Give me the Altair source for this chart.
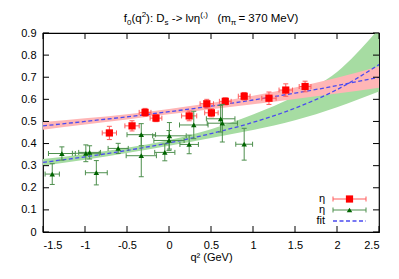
import altair as alt
import pandas as pd

FONT = "Liberation Sans"
W, H = 336, 199

# ---- data ----
# eta (red squares)
eta_q2 = [-0.71, -0.44, -0.285, -0.155, 0.24, 0.45, 0.505, 0.67, 0.895, 1.19, 1.39, 1.62]
eta_f0 = [0.448, 0.480, 0.541, 0.515, 0.525, 0.580, 0.539, 0.591, 0.614, 0.605, 0.642, 0.658]
eta_xerr = [0.085, 0.085, 0.07, 0.07, 0.09, 0.08, 0.08, 0.07, 0.07, 0.085, 0.08, 0.07]
eta_yerr = [0.030, 0.023, 0.018, 0.016, 0.022, 0.020, 0.018, 0.016, 0.017, 0.028, 0.028, 0.024]

# eta' (green triangles)
etap_q2 = [-1.39, -1.275, -0.99, -0.945, -0.865, -0.605, -0.33, -0.33, -0.05, 0.0, 0.005, 0.24, 0.295, 0.615, 0.635, 0.895]
etap_f0 = [0.262, 0.355, 0.356, 0.360, 0.268, 0.378, 0.440, 0.345, 0.360, 0.414, 0.435, 0.396, 0.484, 0.512, 0.492, 0.397]
etap_xerr = [0.085, 0.16, 0.16, 0.13, 0.13, 0.12, 0.17, 0.18, 0.12, 0.18, 0.20, 0.11, 0.17, 0.17, 0.18, 0.10]
etap_yerr = [0.047, 0.030, 0.038, 0.030, 0.055, 0.023, 0.050, 0.095, 0.038, 0.045, 0.060, 0.042, 0.062, 0.060, 0.085, 0.072]

# fit curves (central value, lower, upper) sampled along q^2
fit_q2 = [-1.5, -1.0, -0.5, 0.0, 0.5, 1.0, 1.5, 2.0, 2.5]
fit_eta = [0.480, 0.500, 0.521, 0.544, 0.569, 0.597, 0.628, 0.662, 0.700]
fit_eta_lo = [0.463, 0.486, 0.509, 0.532, 0.555, 0.578, 0.602, 0.626, 0.652]
fit_eta_hi = [0.497, 0.514, 0.533, 0.556, 0.583, 0.616, 0.654, 0.698, 0.748]
fit_etap = [0.315, 0.340, 0.369, 0.403, 0.445, 0.496, 0.560, 0.644, 0.757]
fit_etap_lo = [0.300, 0.327, 0.357, 0.390, 0.425, 0.461, 0.505, 0.564, 0.635]
fit_etap_hi = [0.330, 0.353, 0.381, 0.416, 0.465, 0.531, 0.615, 0.724, 0.920]

x_ticks = [-1.5, -1.0, -0.5, 0.0, 0.5, 1.0, 1.5, 2.0, 2.5]
y_ticks = [0, 0.1, 0.2, 0.3, 0.4, 0.5, 0.6, 0.7, 0.8, 0.9]

# ---- tables ----
def pts(q, f, xe, ye):
    return pd.DataFrame({
        "x": q, "y": f,
        "xlo": [a - b for a, b in zip(q, xe)], "xhi": [a + b for a, b in zip(q, xe)],
        "ylo": [a - b for a, b in zip(f, ye)], "yhi": [a + b for a, b in zip(f, ye)],
    })

d_eta = pts(eta_q2, eta_f0, eta_xerr, eta_yerr)
d_etap = pts(etap_q2, etap_f0, etap_xerr, etap_yerr)
d_fit_eta = pd.DataFrame({"x": fit_q2, "y": fit_eta, "lo": fit_eta_lo, "hi": fit_eta_hi})
d_fit_etap = pd.DataFrame({"x": fit_q2, "y": fit_etap, "lo": fit_etap_lo, "hi": fit_etap_hi})
d_xt = pd.DataFrame({"t": x_ticks})
d_yt = pd.DataFrame({"t": y_ticks})
one = pd.DataFrame({"k": [0]})

xs = alt.Scale(domain=[-1.5, 2.5], nice=False, zero=False)
ys = alt.Scale(domain=[0, 0.9], nice=False, zero=False)

XT = "q² (GeV)"
AX_X = alt.Axis(values=x_ticks, labelExpr="'' + datum.value", domain=False, ticks=False,
                grid=False, labelFont=FONT, labelFontSize=11, labelColor="#000",
                labelPadding=7, titleFont=FONT, titleFontSize=11, titleFontWeight="normal",
                titleColor="#000", titlePadding=1)
AX_Y = alt.Axis(values=y_ticks, labelExpr="'' + datum.value", domain=False, ticks=False,
                grid=False, labelFont=FONT, labelFontSize=11, labelColor="#000",
                labelPadding=7, title=None)

def X(f):
    return alt.X(f, type="quantitative", scale=xs, axis=AX_X, title=XT)

def Y(f):
    return alt.Y(f, type="quantitative", scale=ys, axis=AX_Y, title=None)

RED, RED_BAR, PINK = "#ff0000", "#ff5a5a", "#ffb6b6"
GREEN, GREEN_BAR, LGREEN = "#006400", "#4d8f4d", "#a6dca2"
BLUE = "#4b4bf0"

def band(d, color):
    return alt.Chart(d).mark_area(color=color, opacity=1, interpolate="monotone", clip=True).encode(
        x=X("x"), y=Y("lo"), y2=alt.Y2("hi"))

def fitline(d):
    return alt.Chart(d).mark_line(color=BLUE, strokeWidth=1.3, strokeDash=[4, 2.5],
                                  interpolate="monotone", clip=True).encode(x=X("x"), y=Y("y"))

def errs(d, color, marker):
    c = alt.Chart(d)
    return [
        c.mark_rule(color=color, strokeWidth=1).encode(x=X("xlo"), x2=alt.X2("xhi"), y=Y("y")),
        c.mark_rule(color=color, strokeWidth=1).encode(x=X("x"), y=Y("ylo"), y2=alt.Y2("yhi")),
        c.mark_rule(color=color, strokeWidth=1, yOffset=-2.5, y2Offset=2.5).encode(x=X("xlo"), y=Y("y"), y2=alt.Y2("y")),
        c.mark_rule(color=color, strokeWidth=1, yOffset=-2.5, y2Offset=2.5).encode(x=X("xhi"), y=Y("y"), y2=alt.Y2("y")),
        c.mark_rule(color=color, strokeWidth=1, xOffset=-2.5, x2Offset=2.5).encode(x=X("x"), x2=alt.X2("x"), y=Y("ylo")),
        c.mark_rule(color=color, strokeWidth=1, xOffset=-2.5, x2Offset=2.5).encode(x=X("x"), x2=alt.X2("x"), y=Y("yhi")),
        marker.encode(x=X("x"), y=Y("y")),
    ]

red_layers = errs(d_eta, RED_BAR, alt.Chart(d_eta).mark_square(size=52, color=RED, opacity=1))
green_layers = errs(d_etap, GREEN_BAR, alt.Chart(d_etap).mark_point(shape="triangle-up", size=30, filled=True, color=GREEN, opacity=1))

# inward tick marks on all four sides
TL = 6
tick_layers = [
    alt.Chart(d_xt).mark_rule(color="#000").encode(x=X("t"), y=alt.value(H), y2=alt.value(H - TL)),
    alt.Chart(d_xt).mark_rule(color="#000").encode(x=X("t"), y=alt.value(0), y2=alt.value(TL)),
    alt.Chart(d_yt).mark_rule(color="#000").encode(y=Y("t"), x=alt.value(0), x2=alt.value(TL)),
    alt.Chart(d_yt).mark_rule(color="#000").encode(y=Y("t"), x=alt.value(W), x2=alt.value(W - TL)),
]

# legend (drawn by hand, gnuplot style)
o = alt.Chart(one)
LX0, LX1, LXM, LT = 290, 323, 306.5, 282
ROWS = [166, 177, 188]
legend_layers = []
for r, txt in zip(ROWS, ["η", "η", "fit"]):
    legend_layers.append(
        o.mark_text(align="right", baseline="middle", font=FONT, fontSize=11, color="#000").encode(
            x=alt.value(LT), y=alt.value(r), text=alt.value(txt)))
for r, col in [(ROWS[0], RED_BAR), (ROWS[1], GREEN_BAR)]:
    legend_layers += [
        o.mark_rule(color=col).encode(x=alt.value(LX0), x2=alt.value(LX1), y=alt.value(r)),
        o.mark_rule(color=col).encode(x=alt.value(LX0), y=alt.value(r - 2.5), y2=alt.value(r + 2.5)),
        o.mark_rule(color=col).encode(x=alt.value(LX1), y=alt.value(r - 2.5), y2=alt.value(r + 2.5)),
    ]
legend_layers += [
    o.mark_square(size=52, color=RED, opacity=1).encode(x=alt.value(LXM), y=alt.value(ROWS[0])),
    o.mark_point(shape="triangle-up", size=30, filled=True, color=GREEN, opacity=1).encode(
        x=alt.value(LXM), y=alt.value(ROWS[1])),
    o.mark_rule(color=BLUE, strokeWidth=1.3, strokeDash=[4, 2.5]).encode(
        x=alt.value(LX0), x2=alt.value(LX1), y=alt.value(ROWS[2])),
]

# title with sub/superscripts, laid out with Arial/Liberation Sans advance widths
CW = {"f": 278, "0": 556, "(": 333, "q": 556, "2": 556, ")": 333, ":": 278, " ": 278, "D": 722,
      "s": 500, "-": 333, ">": 584, "l": 222, "ν": 500, "η": 556, "'": 191, ",": 278, "m": 833,
      "π": 556, "=": 584, "3": 556, "7": 556, "M": 833, "e": 556, "V": 667}
S_MAIN, S_SMALL = 11.5, 8
parts = [("f", 0), ("0", -1), ("(q", 0), ("2", 1), ("): D", 0), ("s", -1), (" -> lνη", 0),
         ("(,)", 1), ("   (m", 0), ("π", -1), (" = 370 MeV)", 0)]

def wid(t, fs):
    return sum(CW.get(ch, 556) for ch in t) / 1000 * fs

sizes = [S_MAIN if k == 0 else S_SMALL for _, k in parts]
widths = [wid(t, fs) for (t, _), fs in zip(parts, sizes)]
cx = W / 2 - sum(widths) / 2
title_layers = []
for (t, k), fs, w in zip(parts, sizes, widths):
    stripped = t.lstrip(" ")
    lead = wid(t[: len(t) - len(stripped)], fs)
    py = {0: -11, -1: -8, 1: -16}[k]
    title_layers.append(
        o.mark_text(align="left", baseline="alphabetic", font=FONT, fontSize=fs, color="#000").encode(
            x=alt.value(cx + lead), y=alt.value(py), text=alt.value(stripped)))
    cx += w

chart = alt.layer(
    band(d_fit_etap, LGREEN),
    band(d_fit_eta, PINK),
    fitline(d_fit_eta),
    fitline(d_fit_etap),
    *red_layers,
    *green_layers,
    *tick_layers,
    *legend_layers,
    *title_layers,
).properties(
    width=W, height=H,
    autosize=alt.AutoSizeParams(type="none"),
    padding={"left": 35, "top": 25, "right": 12, "bottom": 39},
).configure_view(stroke="#000", strokeWidth=1.2)

chart.save("out.html", embed_options={"renderer": "svg", "actions": False})
